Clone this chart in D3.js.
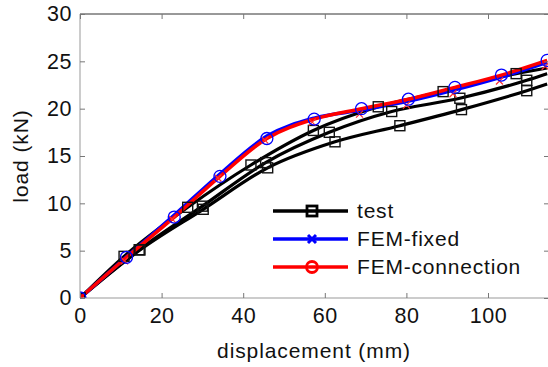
<!DOCTYPE html>
<html><head><meta charset="utf-8">
<script src="https://cdn.jsdelivr.net/npm/d3@7"></script>
<style>
body{margin:0;background:#fff;}
svg{display:block;font-family:"Liberation Sans",Arial,sans-serif;}
</style></head>
<body><svg id="c" width="548" height="367"></svg>
<script>
// ---- data ----
const xTicks = [0, 20, 40, 60, 80, 100];
const yTicks = [0, 5, 10, 15, 20, 25, 30];
const seriesNames = ["test", "FEM-fixed", "FEM-connection"];

// test specimens (displacement mm, load kN)
const test1 = [[0,0],[10.8,4.4],[26.4,9.58],[41.9,14.05],[57.2,17.7],[73.1,20.2],[89,21.8],[106.9,23.7],[114.5,24.3]];
const test2 = [[0,0],[14.5,5.1],[30,9.7],[45.5,14.3],[61.1,17.5],[76.4,19.7],[93.1,21.1],[109.5,23.0],[114.5,23.7]];
const test3 = [[0,0],[14.7,5.07],[30.2,9.37],[46,13.75],[62.5,16.5],[78.4,18.2],[93.5,19.9],[109.5,21.9],[114.5,22.6]];
// FEM
const femFixed = [[0,0],[11.4,4.35],[23.1,8.75],[34.3,13.1],[45.8,17.1],[57.4,19.0],[69,19.85],[80.5,20.8],[91.9,22.0],[103.3,23.35],[114.5,24.9]];
const femConn  = [[0,0],[11.4,4.3],[23.1,8.55],[34.3,12.85],[45.8,16.85],[57.4,18.9],[69,20.0],[80.5,21.0],[91.9,22.25],[103.3,23.55],[114.5,25.1]];

// ---- chart ----
const svg = d3.select("#c");
const x = d3.scaleLinear().domain([0,115]).range([80, 549.2]);
const y = d3.scaleLinear().domain([0,30]).range([298, 14]);

svg.append("defs").append("clipPath").attr("id","clip")
  .append("rect").attr("x",80).attr("y",14).attr("width",470).attr("height",284);

const line = d3.line().x(d=>x(d[0])).y(d=>y(d[1])).curve(d3.curveMonotoneX);
const g = svg.append("g").attr("clip-path","url(#clip)");

[test3, test2, test1].forEach(s=>{
  g.append("path").attr("d",line(s)).attr("fill","none").attr("stroke","#000").attr("stroke-width",3.2);
});
g.append("path").attr("d",line(femFixed)).attr("fill","none").attr("stroke","#0000ff").attr("stroke-width",3.5);
g.append("path").attr("d",line(femConn)).attr("fill","none").attr("stroke","#ff0000").attr("stroke-width",3.5);

// test markers
[test1,test2,test3].forEach(s=>{
  g.selectAll(null).data(s.slice(0,-1)).enter().append("rect")
    .attr("x",d=>x(d[0])-5).attr("y",d=>y(d[1])-5).attr("width",10).attr("height",10)
    .attr("fill","none").attr("stroke","#111").attr("stroke-width",1.4);
});
// red x marks (fixed)
const xm = (cx,cy,r)=>`M${cx-r},${cy-r}L${cx+r},${cy+r}M${cx-r},${cy+r}L${cx+r},${cy-r}`;
g.selectAll(null).data(femFixed).enter().append("path")
  .attr("d",d=>xm(x(d[0])-2,y(d[1])+4,3.5)).attr("stroke","#ff3030").attr("stroke-width",1.2).attr("fill","none");
// blue circles (connection)
g.selectAll(null).data(femConn).enter().append("circle")
  .attr("cx",d=>x(d[0])).attr("cy",d=>y(d[1])).attr("r",6)
  .attr("fill","none").attr("stroke","#0000ff").attr("stroke-width",1.3);

// ---- axes ----
svg.append("line").attr("x1",80).attr("x2",549).attr("y1",14).attr("y2",14).attr("stroke","#333").attr("stroke-width",1);
svg.append("line").attr("x1",80).attr("x2",549).attr("y1",298).attr("y2",298).attr("stroke","#999").attr("stroke-width",1);
svg.append("line").attr("x1",80).attr("x2",80).attr("y1",14).attr("y2",298).attr("stroke","#999").attr("stroke-width",1);

const xa = svg.append("g").attr("transform","translate(0,298)")
  .call(d3.axisBottom(x).tickValues(xTicks).tickSize(-5).tickPadding(10).tickFormat(d3.format("d")));
const xaT = svg.append("g").attr("transform","translate(0,14)")
  .call(d3.axisTop(x).tickValues(xTicks).tickSize(-5).tickFormat(""));
const ya = svg.append("g").attr("transform","translate(80,0)")
  .call(d3.axisLeft(y).tickValues(yTicks).tickSize(-5).tickPadding(8).tickFormat(d3.format("d")));
const yaR = svg.append("g").attr("transform","translate(549,0)")
  .call(d3.axisRight(y).tickValues(yTicks).tickSize(-5).tickFormat(""));
[xa,xaT,ya,yaR].forEach(a=>{
  a.select(".domain").remove();
  a.selectAll(".tick line").attr("stroke","#777");
  a.selectAll("text").attr("fill","#111").style("font-size","21.5px").style("letter-spacing","0.5px")
    .style("font-family","'Liberation Sans',Arial,sans-serif");
});

svg.append("text").attr("x",314).attr("y",358).attr("text-anchor","middle")
  .style("font-size","21px").style("letter-spacing","0.9px").attr("fill","#111").text("displacement (mm)");
svg.append("text").attr("transform","translate(28,156) rotate(-90)").attr("text-anchor","middle")
  .style("font-size","21px").style("letter-spacing","0.9px").attr("fill","#111").text("load (kN)");

// ---- legend ----
const leg = svg.append("g");
const legY = [211, 239, 267];
const legCol = ["#000","#0000ff","#ff0000"];
seriesNames.forEach((n,i)=>{
  leg.append("line").attr("x1",273).attr("x2",348).attr("y1",legY[i]).attr("y2",legY[i])
    .attr("stroke",legCol[i]).attr("stroke-width",3.5);
  leg.append("text").attr("x",357).attr("y",legY[i]+7).style("font-size","21px").style("letter-spacing","0.8px")
    .attr("fill","#111").text(n);
});
leg.append("rect").attr("x",307).attr("y",legY[0]-5).attr("width",10).attr("height",10)
  .attr("fill","none").attr("stroke","#000").attr("stroke-width",2.8);
leg.append("path").attr("d",xm(312,legY[1],4)).attr("stroke","#0000ff").attr("stroke-width",3).attr("fill","none");
leg.append("circle").attr("cx",312).attr("cy",legY[2]).attr("r",5.5).attr("fill","none").attr("stroke","#ff0000").attr("stroke-width",2.8);
</script></body></html>
